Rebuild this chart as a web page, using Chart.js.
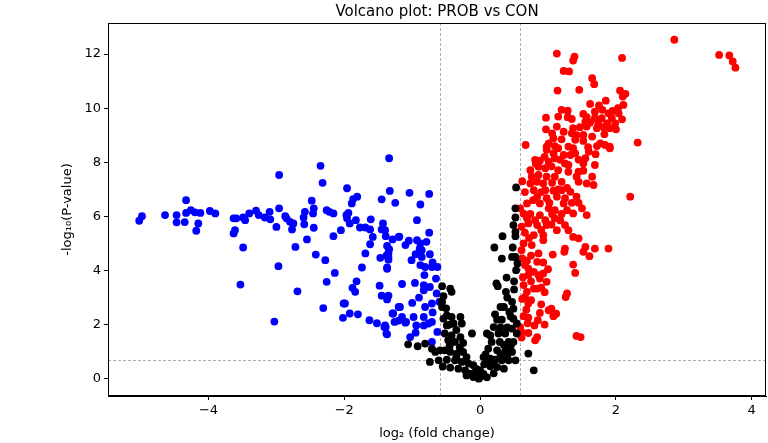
<!DOCTYPE html>
<html><head><meta charset="utf-8">
<script src="https://cdn.jsdelivr.net/npm/chart.js@4/dist/chart.umd.min.js"></script>
<style>html,body{margin:0;padding:0;background:#fff}#wrap{width:768px;height:443px}</style>
</head><body><div id="wrap"><canvas id="c" width="768" height="443"></canvas></div>
<script>
const xTicks=[-4,-2,0,2,4];
const yTicks=[0,2,4,6,8,10,12];
const xRange=[-5.48,4.21];
const yRange=[-0.64,13.15];
const fcCut=0.585;   // log2(1.5)
const pCut=0.699;    // -log10(0.2)

const downPts=[[-5.02,5.84],[-4.98,6.01],[-4.64,6.05],[-4.47,6.05],[-4.47,5.78],[-4.35,5.79],[-4.33,6.60],[-4.33,6.13],[-4.26,6.23],[-4.20,6.15],[-4.15,5.74],[-4.18,5.47],[-4.12,6.13],[-3.98,6.20],[-3.90,6.11],[-3.63,5.93],[-3.59,5.93],[-3.61,5.49],[-3.63,5.37],[-3.49,4.85],[-3.49,5.96],[-3.46,5.86],[-3.40,6.11],[-3.30,6.21],[-3.26,6.05],[-3.17,5.96],[-3.10,6.17],[-3.09,5.89],[-3.00,5.61],[-2.96,7.53],[-2.96,6.30],[-2.97,4.16],[-2.87,6.01],[-2.85,5.93],[-2.80,5.80],[-2.77,5.52],[-2.75,5.74],[-2.72,4.87],[-2.60,5.96],[-2.59,5.71],[-2.58,6.17],[-2.55,5.15],[-2.48,6.58],[-2.46,6.11],[-2.45,6.30],[-2.45,5.58],[-2.42,4.59],[-2.35,7.87],[-2.32,7.24],[-2.28,4.38],[-2.26,6.23],[-2.22,6.17],[-2.16,6.11],[-2.16,5.27],[-2.05,5.49],[-1.96,7.04],[-1.97,6.05],[-1.96,5.93],[-1.94,6.13],[-1.92,5.74],[-1.89,6.48],[-1.87,6.64],[-1.81,6.73],[-1.83,5.86],[-1.77,5.59],[-1.74,4.11],[-1.69,5.59],[-1.69,4.63],[-1.62,5.52],[-1.61,5.89],[-1.62,4.97],[-1.58,5.24],[-1.47,4.47],[-1.45,6.63],[-1.45,5.52],[-1.43,5.74],[-1.40,5.49],[-1.39,5.27],[-1.37,4.91],[-1.35,4.65],[-1.35,4.50],[-1.34,8.15],[-1.33,6.94],[-1.37,4.11],[-1.25,6.50],[-1.29,5.15],[-1.20,5.24],
[-3.53,3.48],[-2.69,3.23],[-3.03,2.11],[-2.14,3.91],[-2.26,3.58],[-2.31,2.61],[-1.82,3.60],[-1.88,3.36],[-1.84,3.21],[-2.01,2.78],[-1.99,2.78],[-2.02,2.25],[-1.92,2.41],[-1.80,2.38],[-1.63,2.16],[-1.52,2.05],[-1.41,1.91],[-1.39,1.91],[-1.37,1.64],[-1.48,3.44],[-1.45,3.07],[-1.37,2.93],[-1.35,3.07],[-1.37,4.06],[-1.29,2.41],[-1.26,2.10],[-1.20,2.65],[-1.20,2.15],
[-1.04,6.87],[-0.75,6.83],[-0.88,6.44],[-0.93,5.86],[-1.19,5.25],[-1.10,4.94],[-0.93,5.12],[-0.88,5.00],[-0.79,5.06],[-0.89,4.81],[-0.86,4.75],[-1.01,4.38],[-0.86,4.50],[-0.88,4.20],[-0.81,4.13],[-0.71,4.13],[-0.63,4.13],[-0.82,3.83],[-0.96,3.54],[-0.83,3.46],[-0.83,3.27],[-0.74,3.39],[-0.64,3.15],[-0.60,2.84],[-0.71,2.78],[-0.81,2.65],[-1.18,2.65],[-1.28,2.41],[-1.15,2.28],[-1.09,2.10],[-1.10,2.07],[-0.98,2.28],[-0.83,2.28],[-0.76,2.04],[-0.71,2.10],[-0.94,1.97],[-0.83,1.97],[-0.63,1.73],[-1.40,1.97],[-1.38,1.67],[-1.03,1.54],[-0.71,1.36],[-0.74,4.60],[-1.34,4.79],[-1.38,4.55],[-1.35,4.40],
[-0.70,4.30],[-0.65,3.70],[-0.90,3.00],[-1.00,2.80],[-1.15,3.50],[-0.75,5.40],[-0.95,4.60],[-1.05,5.10],[-0.70,2.45],[-0.95,1.70]];

const nsPts=[[0.53,7.07],[0.52,6.30],[0.52,5.96],[0.49,5.68],[0.52,5.43],[0.52,5.27],[0.33,5.27],[0.21,4.85],[0.48,4.85],[0.47,4.50],[0.52,4.50],[0.32,4.44],[0.55,4.26],[0.53,4.01],[0.39,3.74],[0.24,3.52],[0.26,3.42],[0.38,3.21],[0.47,2.84],[0.30,2.65],[0.35,2.65],[0.49,2.59],[0.43,2.47],[0.22,2.38],[0.25,2.18],[0.32,2.18],[0.49,2.22],[0.54,2.04],[0.47,1.85],[0.20,1.91],[0.10,1.67],[0.15,1.60],[0.27,1.67],[0.37,1.67],[0.54,1.67],[0.17,1.36],[0.29,1.36],[0.42,1.36],[0.49,1.36],[0.12,1.11],[0.25,1.05],[0.37,1.02],[0.47,0.99],[0.05,0.80],[0.15,0.74],[0.22,0.70],[0.32,0.68],[0.42,0.68],[0.52,0.68],[0.06,0.53],[0.15,0.46],[0.25,0.43],[0.35,0.37],[0.00,0.31],[-0.07,0.24],[0.00,0.06],[-0.02,0.00],[0.05,0.18],[0.71,0.93],[0.79,0.31],
[-0.56,3.42],[-0.44,3.33],[-0.42,3.21],[-0.54,3.05],[-0.56,2.84],[-0.56,2.65],[-0.49,2.34],[-0.54,2.22],[-0.42,2.28],[-0.29,2.28],[-0.49,1.97],[-0.39,2.04],[-0.27,2.04],[-0.12,1.67],[-0.52,1.67],[-0.42,1.60],[-0.29,1.54],[-0.47,1.42],[-0.37,1.36],[-0.25,1.32],[-1.06,1.27],[-0.92,1.20],[-0.81,1.30],[-0.71,1.11],[-0.66,0.99],[-0.59,1.05],[-0.52,1.05],[-0.44,0.99],[-0.34,0.93],[-0.25,0.99],[-0.61,0.68],[-0.49,0.70],[-0.37,0.68],[-0.27,0.62],[-0.17,0.56],[-0.44,0.41],[-0.32,0.37],[-0.22,0.31],[-0.15,0.19],[-0.10,0.06],[-0.20,0.12],[-0.74,0.62],
[-0.35,1.80],[-0.45,1.20],[-0.30,1.15],[-0.20,0.80],[-0.10,0.50],[-0.05,0.35],[0.08,0.90],[0.10,0.60],[0.20,0.55],[0.30,0.90],[0.40,0.85],[0.45,1.20],[0.35,1.25],[0.40,1.90],[0.30,1.90],[0.45,2.30],[0.40,3.00],[0.50,3.30],[0.50,3.60],[-0.50,2.60],[-0.45,2.00],[-0.35,0.80],[-0.55,0.45],[0.10,0.05],[0.20,0.20]];

const upPts=[[1.13,12.02],[1.39,11.91],[1.37,11.76],[2.09,11.86],[1.23,11.38],[1.31,11.36],[1.65,11.11],[1.68,10.89],[1.14,10.65],[1.46,10.68],[2.06,10.65],[2.14,10.53],[2.10,10.43],[1.62,10.16],[1.85,10.28],[2.11,10.12],[1.20,9.94],[1.29,9.91],[1.52,9.79],[1.69,9.87],[1.80,9.94],[1.89,9.81],[2.04,9.81],[0.97,9.65],[1.15,9.69],[1.29,9.67],[1.57,9.67],[1.69,9.63],[1.79,9.63],[1.94,9.63],[2.09,9.59],[1.62,9.47],[1.74,9.44],[1.87,9.44],[1.99,9.44],[0.97,9.22],[1.13,9.32],[1.37,9.26],[1.47,9.30],[1.57,9.32],[1.72,9.26],[1.82,9.30],[1.91,9.26],[2.00,9.22],[1.06,9.07],[1.23,9.13],[1.35,9.07],[1.52,9.01],[1.83,9.04],[1.08,8.89],[1.20,8.85],[1.40,8.83],[1.65,8.95],[1.52,8.79],[1.77,8.70],[1.84,8.64],[0.67,8.64],[2.32,8.73],[0.98,8.58],[1.10,8.60],[1.30,8.58],[1.59,8.56],[1.72,8.60],[1.91,8.58],
[2.86,12.53],[3.52,11.97],[3.67,11.95],[3.72,11.73],[3.76,11.50],
[1.01,8.70],[1.15,8.52],[1.37,8.52],[1.91,8.52],[0.98,8.46],[1.08,8.33],[1.23,8.27],[1.33,8.27],[1.40,8.33],[0.81,8.09],[0.88,8.06],[1.01,8.02],[1.18,8.09],[1.25,7.96],[1.55,8.15],[1.52,7.96],[1.69,7.90],[0.74,7.71],[0.86,7.84],[0.96,7.78],[1.15,7.71],[1.30,7.65],[1.45,7.65],[1.52,7.69],[0.76,7.47],[0.86,7.53],[0.98,7.47],[1.10,7.47],[1.42,7.47],[1.65,7.47],[0.74,7.22],[0.84,7.28],[0.93,7.22],[1.06,7.24],[1.20,7.28],[1.45,7.28],[1.57,7.22],[1.67,7.16],[0.79,6.97],[0.96,6.97],[1.08,6.95],[1.20,6.97],[1.33,6.91],[2.21,6.73],[0.84,6.73],[0.98,6.67],[1.13,6.73],[1.25,6.67],[1.42,6.73],[0.69,6.48],[0.88,6.48],[1.23,6.48],[1.45,6.50],[0.59,6.30],[1.01,6.30],[1.10,6.23],[1.28,6.23],[0.74,6.09],[0.88,6.05],[1.06,6.09],[1.20,6.09],[1.37,6.11],[1.57,6.05],[0.69,5.93],[0.81,5.86],[0.96,5.86],[1.10,5.93],[0.71,5.74],[0.84,5.68],[0.98,5.68],[1.25,5.68],[0.61,5.62],[1.13,5.49],[1.30,5.49],[0.79,5.31],[0.93,5.31],[1.37,5.24],[1.45,5.19],[0.93,5.12],[0.64,5.00],[0.76,4.94],[1.25,4.81],[1.55,4.87],[1.69,4.81],[1.89,4.81],
[0.61,4.75],[0.86,4.63],[1.07,4.59],[1.24,4.69],[1.52,4.69],[1.61,4.53],[0.69,4.36],[0.84,4.32],[1.37,4.22],[1.40,3.91],[0.71,4.07],[0.79,3.95],[0.71,3.83],[0.86,3.83],[0.93,3.89],[0.98,3.58],[0.88,3.70],[0.64,3.46],[0.69,3.21],[0.79,3.33],[0.84,3.33],[0.90,3.37],[1.28,3.15],[1.26,3.02],[0.66,3.02],[0.71,2.78],[1.01,2.53],[1.05,2.59],[0.88,2.43],[1.08,2.31],[0.64,2.31],[0.71,2.26],[0.85,2.16],[0.80,1.97],[0.59,1.91],[0.61,1.73],[0.71,1.69],[0.84,1.54],[0.81,1.42],[0.61,1.52],[1.42,1.58],[1.48,1.54],
[0.62,4.45],[0.66,4.20],[0.75,4.55],[0.93,4.30],[1.00,4.05],[0.63,3.75],[0.75,3.60],[0.95,3.20],[0.62,2.95],[0.75,2.90],[0.90,2.75],[0.68,2.55],[0.95,2.00],[0.70,2.05],[1.12,2.40],[0.64,6.10],[0.66,5.40],[0.72,5.20],[0.90,5.50],[1.05,5.70],[1.18,5.85],[1.02,6.50],[0.90,6.90],[0.78,6.60],[1.15,7.00],[1.28,7.05],[0.82,7.95],[0.95,8.20],[1.10,8.15],[1.30,7.90],[1.05,7.85],[0.62,7.30],[0.66,6.90],[1.35,6.50],[1.50,6.30],[1.45,8.10],[1.60,8.40],[1.70,8.30],[1.35,9.60],[1.42,9.00],[1.55,9.50],[1.95,9.90],[2.03,10.00],[1.75,10.10]];

const FONT='DejaVu Sans';
const toXY=a=>a.map(p=>({x:p[0],y:p[1]}));
const minus=v=>String(v).replace('-','\u2212');

const frame={id:'frame',
  beforeDatasetsDraw(ch){
    const {ctx,chartArea:a,scales:{x,y}}=ch;
    ctx.save();
    ctx.strokeStyle='#999';ctx.lineWidth=0.8;ctx.setLineDash([3,2]);
    [-fcCut,fcCut].forEach(v=>{const px=Math.round(x.getPixelForValue(v))+0.5;ctx.beginPath();ctx.moveTo(px,a.top);ctx.lineTo(px,a.bottom);ctx.stroke();});
    const py=Math.round(y.getPixelForValue(pCut))+0.5;
    ctx.beginPath();ctx.moveTo(a.left,py);ctx.lineTo(a.right,py);ctx.stroke();
    ctx.restore();
  },
  afterDraw(ch){
    const {ctx,chartArea:a}=ch;
    ctx.save();ctx.strokeStyle='#000';ctx.lineWidth=1;
    ctx.strokeRect(Math.round(a.left)+0.5,Math.round(a.top)+0.5,Math.round(a.right-a.left)-1,Math.round(a.bottom-a.top)-1);
    ctx.restore();
  }};

const ds=(pts,c)=>({data:toXY(pts),backgroundColor:c,borderWidth:0,pointRadius:3.9,pointHoverRadius:3.9});

new Chart(document.getElementById('c'),{
  type:'scatter',
  data:{datasets:[ds(nsPts,'#000000'),ds(downPts,'#0000ff'),ds(upPts,'#ff0000')]},
  options:{
    responsive:false,animation:false,devicePixelRatio:1,
    layout:{autoPadding:false,padding:{top:0,left:0,right:2,bottom:0}},
    plugins:{
      legend:{display:false},tooltip:{enabled:false},
      title:{display:true,text:'Volcano plot: PROB vs CON',fullSize:false,color:'#000',
        font:{family:FONT,size:15,weight:'normal'},padding:{top:3,bottom:2}}
    },
    scales:{
      x:{type:'linear',min:xRange[0],max:xRange[1],
        afterBuildTicks:s=>{s.ticks=xTicks.map(v=>({value:v}));},
        afterFit:s=>{s.height=47;s.paddingLeft=0;s.paddingRight=0;},
        ticks:{color:'#000',font:{family:FONT,size:13},padding:3,callback:v=>minus(v)},
        grid:{display:true,drawOnChartArea:false,drawTicks:true,tickLength:4,color:'#000'},
        border:{display:true,color:'#000'},
        title:{display:true,text:'log\u2082 (fold change)',color:'#000',font:{family:FONT,size:13},padding:{top:0,bottom:2}}},
      y:{type:'linear',min:yRange[0],max:yRange[1],
        afterBuildTicks:s=>{s.ticks=yTicks.map(v=>({value:v}));},
        afterFit:s=>{s.width=108;s.paddingTop=0;s.paddingBottom=0;},
        ticks:{color:'#000',font:{family:FONT,size:13},padding:3,callback:v=>minus(v)},
        grid:{display:true,drawOnChartArea:false,drawTicks:true,tickLength:4,color:'#000'},
        border:{display:true,color:'#000'},
        title:{display:true,text:'-log\u2081\u2080(P-value)',color:'#000',font:{family:FONT,size:13},padding:{top:60,bottom:0}}}
    }
  },
  plugins:[frame]
});
</script></body></html>
